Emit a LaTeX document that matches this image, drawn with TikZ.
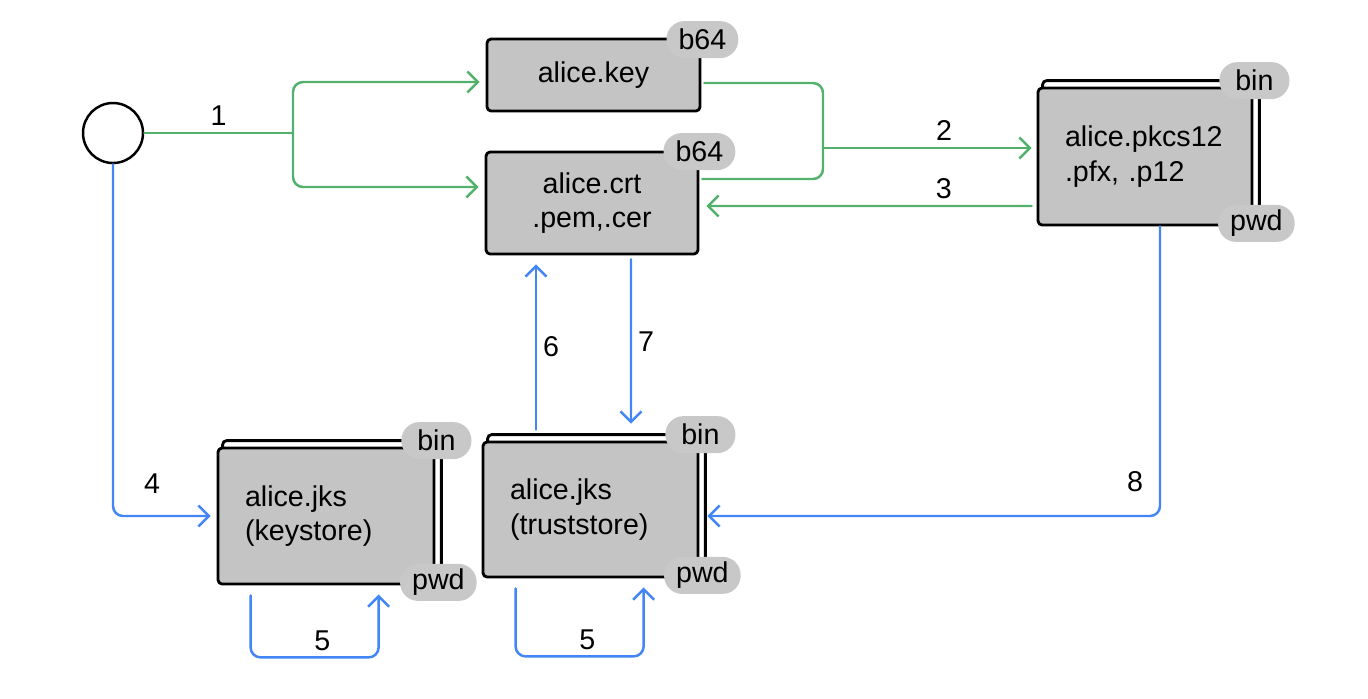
\documentclass[tikz,border=0pt]{standalone}
\usepackage{fontspec}
\setmainfont{Liberation Sans}
\usetikzlibrary{arrows.meta,calc,backgrounds}
\definecolor{boxgray}{HTML}{C4C4C4}
\definecolor{pillgray}{HTML}{C8C8C8}
\definecolor{lgreen}{HTML}{52B26C}
\definecolor{lblue}{HTML}{4285F4}
\tikzset{
file/.style={draw,line width=1.6pt,fill=boxgray,rounded corners=0.08cm,inner xsep=0.54cm,inner ysep=0pt},
filestack/.style={draw,line width=1.6pt,fill=white,rounded corners=0.08cm},
pill/.style={fill=pillgray,rounded corners=0.36cm,minimum height=0.74cm,minimum width=1.4cm,inner xsep=0.24cm,inner ysep=0pt},
gline/.style={lgreen,line width=1.4pt,rounded corners=0.2cm,nodes={text=black}},
bline/.style={lblue,line width=1.4pt,rounded corners=0.2cm,nodes={text=black}}
}
\begin{document}
\begin{tikzpicture}[x=0.02cm,y=-0.02cm,>={Straight Barb[length=6pt,width=12pt]},line join=round,line cap=round,font=\fontsize{16.3}{19.5}\selectfont]
\useasboundingbox (0,0) rectangle (1368,698);
% files
\node[draw,circle,line width=1.4pt,minimum size=1.2cm,inner sep=0pt] (src) at (113,133) {};
\node[file,minimum height=1.44cm,text width=3.18cm,align=center] (key) at (593.5,75) {alice.key};
\node[file,minimum height=2.04cm,text width=3.16cm,align=center] (crt) at (592,203) {alice.crt\\.pem,.cer};
\node[file,minimum height=2.74cm,text width=3.2cm,align=left] (p12) at (1145,156.5) {alice.pkcs12\\.pfx, .p12};
\node[file,minimum height=2.72cm,text width=3.24cm,align=left] (ks) at (326,516) {alice.jks\\(keystore)};
\node[file,minimum height=2.7cm,text width=3.22cm,align=left] (ts) at (590.5,509.5) {alice.jks\\(truststore)};
\begin{scope}[on background layer]
\foreach \f in {p12,ks,ts}
  \draw[filestack] ([shift={(6,-6)}]\f.south west) rectangle ([shift={(6,-6)}]\f.north east);
\end{scope}
% tags
\node[pill] (key-tag) at ($(key.north east)+(1,2)$) {b64};
\node[pill] (crt-tag) at ($(crt.north east)+(0,1)$) {b64};
\foreach \f in {p12,ks,ts}
{
\node[pill] (\f-bin) at ($(\f.north east)+(1,-6)$) {bin};
\node[pill] (\f-pwd) at ($(\f.south east)+(3,-3)$) {pwd};
}
% green
\coordinate (j1) at (293,133);
\coordinate (j2) at (823,148);
\draw[gline] (src.east) -- node[above]{1} (j1);
\draw[gline,->] (j1) |- ($(key.west)+(-6,7)$);
\draw[gline,->] (j1) |- ($(crt.west)+(-6,-16)$);
\draw[gline] ($(key.east)+(3,8)$) -| ($(j2)+(0,31)$) -- ($(crt.east)+(3,-24)$);
\draw[gline,->] (j2) -- node[above,pos=0.58]{2} ($(p12.west)+(-5,-8.5)$);
\draw[gline,->] ($(p12.west)+(-5,49.5)$) -- node[above,pos=0.27]{3} ($(crt.east)+(7,3)$);
% blue
\draw[bline,->] (src.south) |- node[pos=0.7,above=0.3cm]{4} ($(ks.west)+(-6,0)$);
\foreach \f/\d in {ks/62,ts/68}
\draw[bline,->] ($(\f.south west)+(34,10)$) -- ++(0,\d) -| node[pos=0.28,above]{5} ($(\f.south west)+(162,9)$);
\draw[bline,->] ($(ts.north)+(-54.5,-11)$) -- node[right]{6} ($(crt.south)+(-56,9)$);
\draw[bline,->] ($(crt.south)+(39,4)$) -- node[right]{7} ($(ts.north)+(40.5,-17)$);
\draw[bline,->] ($(p12.south)+(15,0)$) |- node[pos=0.44,left=0.2cm]{8} ($(ts.east)+(8,6.5)$);
\end{tikzpicture}
\end{document}
